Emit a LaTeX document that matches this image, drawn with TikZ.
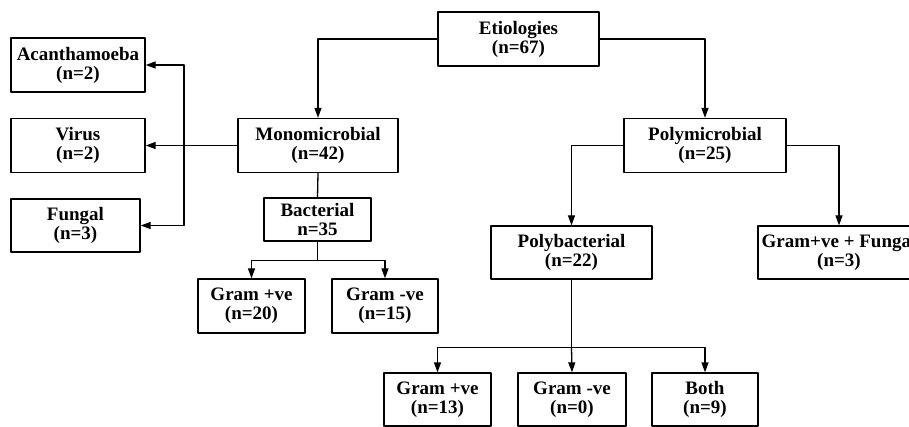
\documentclass[tikz,border=0pt]{standalone}
\usepackage{fontspec}
\setmainfont{Liberation Serif}
\usetikzlibrary{arrows.meta}

\tikzset{
  box/.style={draw, line width=1.3pt, align=center, inner sep=0pt, minimum height=54pt,
    font=\bfseries\fontsize{19}{19}\selectfont},
  link/.style={line width=1.3pt}
}

\begin{document}
\begin{tikzpicture}[line cap=round,line join=round,>={Triangle[length=10pt,width=7pt]},x=1pt,y=-1pt]
\useasboundingbox (0,0) rectangle (909,427);
\clip (0,0) rectangle (909,427);
% top level
\node[box, minimum width=161pt] (etio) at (518.5,39) {Etiologies\\(n=67)};
\node[box, minimum width=160pt] (mono) at (318,145.5) {Monomicrobial\\(n=42)};
\node[box, minimum width=162pt] (poly) at (705,145.5) {Polymicrobial\\(n=25)};
% monomicrobial side
\node[box, minimum width=134pt] (acan) at (78,65) {Acanthamoeba\\(n=2)};
\node[box, minimum width=134pt] (virus) at (78,145.5) {Virus\\(n=2)};
\node[box, minimum width=129pt, minimum height=53pt] (fungal) at (75.5,225.5) {Fungal\\(n=3)};
\node[box, minimum width=107pt, minimum height=43pt] (bact) at (317.5,219.5) {Bacterial\\n=35};
\node[box, minimum width=107pt] (gpos1) at (251.5,306) {Gram +ve\\(n=20)};
\node[box, minimum width=106pt] (gneg1) at (385,306) {Gram -ve\\(n=15)};
% polymicrobial side
\node[box, minimum width=161pt, minimum height=53pt] (polyb) at (571.5,252.5) {Polybacterial\\(n=22)};
\node[box, minimum width=162pt, minimum height=53pt] (gfung) at (839,252.5) {Gram+ve + Fungal\\(n=3)};
\node[box, minimum width=107pt, minimum height=53pt] (gpos2) at (437.5,399.5) {Gram +ve\\(n=13)};
\node[box, minimum width=108pt, minimum height=53pt] (gneg2) at (572,399.5) {Gram -ve\\(n=0)};
\node[box, minimum width=106pt, minimum height=53pt] (both) at (705,399.5) {Both\\(n=9)};

\coordinate (bar) at (184,145.5);
\draw[link,->] (etio.west) -| (mono.north);
\draw[link,->] (etio.east) -| (poly.north);
\draw[link,->] (mono.west) -- (virus.east);
\draw[link,->] (bar) |- (acan.east);
\draw[link,->] (bar) |- (fungal.east);
\draw[link] (mono.south) -- (bact.north);
\draw[link] (bact.south) -- ++(0,19) coordinate (bsplit);
\draw[link,->] (bsplit) -| (gpos1.north);
\draw[link,->] (bsplit) -| (gneg1.north);
\draw[link,->] (poly.west) -| (polyb.north);
\draw[link,->] (poly.east) -| (gfung.north);
\draw[link] (polyb.south) -- ++(0,68) coordinate (psplit);
\draw[link,->] (psplit) -| (gpos2.north);
\draw[link,->] (psplit) -- (gneg2.north);
\draw[link,->] (psplit) -| (both.north);
\end{tikzpicture}
\end{document}
